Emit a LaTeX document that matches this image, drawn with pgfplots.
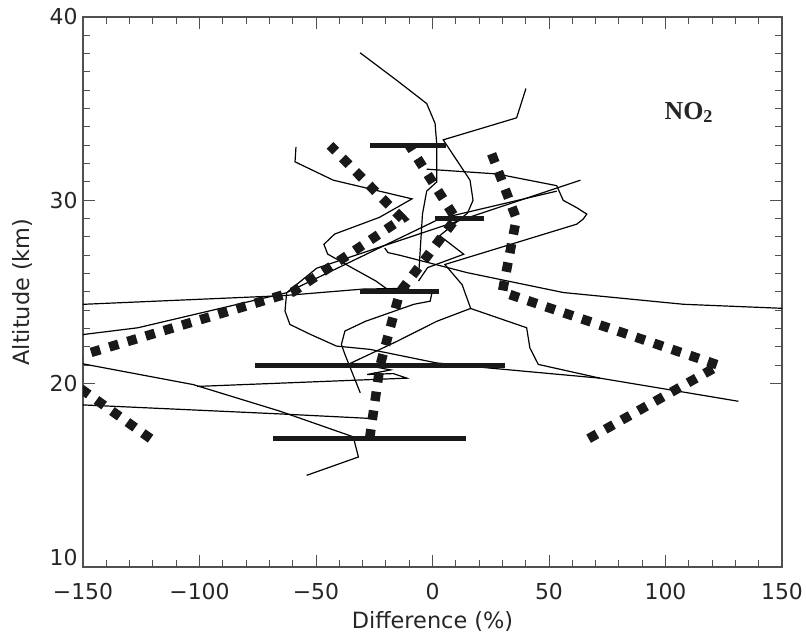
\documentclass[border=0pt]{standalone}
\usepackage{pgfplots}
\pgfplotsset{compat=1.18}
\usetikzlibrary{calc}
\usepackage{fontspec}
\setmainfont{DejaVu Sans}
\newfontfamily\serifbold{Liberation Serif}
\definecolor{thin}{HTML}{3A3A3A}
\definecolor{axcol}{HTML}{505050}
\begin{document}
\begin{tikzpicture}
\begin{axis}[
  scale only axis, width=699bp, height=550bp,
  xmin=-150, xmax=150, ymin=10, ymax=40,
  xtick={-150,-100,-50,0,50,100,150},
  xticklabels={−150,−100,−50,0,50,100,150},
  ytick={20,30,40},
  extra y ticks={10},
  extra y tick style={yticklabel style={yshift=9bp}},
  minor x tick num=4, minor y tick num=9,
  tick align=inside,
  major tick length=12bp, minor tick length=7bp,
  axis line style={axcol, line width=1.2bp},
  every tick/.style={axcol, line width=1bp},
  xlabel={Difference (\%)}, ylabel={Altitude (km)},
  ticklabel style={font=\fontsize{22}{24}\selectfont, text=black!85},
  label style={font=\fontsize{22.5}{26}\selectfont, text=black!85},
  /pgf/number format/assume math mode=true,
  xticklabel style={yshift=-13bp},
  yticklabel style={xshift=-2bp},
  xlabel style={yshift=-5bp},
  ylabel style={yshift=10bp},
  clip=true,
]
\coordinate (bl) at (rel axis cs:0,0);
\coordinate (tr) at (rel axis cs:1,1);
% thin individual profiles
\addplot[thin, line width=1.2bp] coordinates {(-31.1,38.05) (-15.4,36.55) (-2.5,35.28) (1.1,34.2) (1.8,33.1) (1.8,31.0) (-2.5,30.5) (-4.3,29.25) (-5.8,26.2)};
\addplot[thin, line width=1.2bp] coordinates {(40.1,36.1) (36.1,34.5) (4.6,33.3) (16.1,31.1) (17.4,30.0) (15,29.3) (3.1,28.07) (13.4,27.06) (-2.1,26.33) (-6,25.6)};
\addplot[thin, line width=1.2bp] coordinates {(-20.5,27.4) (-19.1,27.15) (-13.9,27.0) (14.7,26.06) (56.2,24.97) (107.7,24.33) (152,24.1)};
\addplot[thin, line width=1.2bp] coordinates {(-2.5,31.7) (27.6,31.44) (53.3,30.8) (56.1,30.0) (61.9,29.6) (66.2,29.25) (64.7,28.98) (61.9,28.7) (5.3,26.5) (12.7,25.4) (16.4,24.1) (40.4,23.05) (41.8,21.95) (45.4,21.05) (71.9,20.3) (131.3,19.04)};
\addplot[thin, line width=1.2bp] coordinates {(-35.4,21.1) (-15.4,22.3) (1.8,23.4) (14.2,24.0) (16.4,24.1)};
\addplot[thin, line width=1.2bp] coordinates {(-155,22.6) (-126.4,23.05) (-62.6,24.96) (-49.7,26.3) (63.5,31.1)};
\addplot[thin, line width=1.2bp] coordinates {(-62,25.0) (3.2,29.0) (53.3,30.5)};
\addplot[thin, line width=1.2bp] coordinates {(-58.6,32.9) (-59,32.1) (-42.6,31.1) (-8.8,30.08) (-22.8,29.07) (-42,28.16) (-46.6,27.6) (-45,27.07) (-34.7,26.33) (-24.3,25.6) (-18.4,25.06) (0,25.1) (-1,24.5) (-8,24.33) (-28.8,23.4) (-37.6,22.87) (-39.1,22.14) (-37.6,21.6) (-31,19.5)};
\addplot[thin, line width=1.2bp] coordinates {(-155,24.3) (-64.2,24.8) (-29.8,25.16) (-10,25.2)};
\addplot[thin, line width=1.2bp] coordinates {(-62.6,24.96) (-63.3,23.96) (-61.2,23.23) (-52.6,22.7) (-41.2,22.05) (-26.8,21.87) (1.8,21.13) (16.1,20.95) (71.9,20.3)};
\addplot[thin, line width=1.2bp] coordinates {(-155,21.2) (-102.7,19.95) (-65.5,18.5) (-34,17.1) (-31.8,16.0) (-54,15.0)};
\addplot[thin, line width=1.2bp] coordinates {(-101,19.85) (-11,20.3) (-16.8,20.55) (-28,20.5) (-18,20.75) (-24,20.9)};
\addplot[thin, line width=1.2bp] coordinates {(-155,18.87) (-65.5,18.35) (-26.1,18.1)};
% thick dotted mean and spread
\addplot[black!90, line width=9.5bp, dash pattern=on 9.5bp off 9.5bp] coordinates {(-27,17) (-22.5,21) (-14,25) (10,29) (-10,33)};
\addplot[black!90, line width=9.5bp, dash pattern=on 9.5bp off 9.5bp] coordinates {(-121,17) (-165,21) (-60,25) (-13,29) (-44,33)};
\addplot[black!90, line width=9.5bp, dash pattern=on 9.5bp off 9.5bp] coordinates {(67,17) (123,21) (30,25) (36,29) (24,33)};
% horizontal bars
\addplot[black!90, line width=5bp, unbounded coords=jump] coordinates {(-27,33) (6,33) (nan,nan) (1,29) (22,29) (nan,nan) (-31,25) (3,25) (nan,nan) (-76,21) (31,21) (nan,nan) (-68.5,17) (14.3,17)};
\node[font=\serifbold\bfseries\fontsize{26}{28}\selectfont, text=black!85] at (axis cs:110,34.8) {NO\textsubscript{2}};
\end{axis}
\pgfresetboundingbox
\path ($(bl)+(-83bp,-66bp)$) rectangle ($(tr)+(24bp,17bp)$);
\end{tikzpicture}
\end{document}
